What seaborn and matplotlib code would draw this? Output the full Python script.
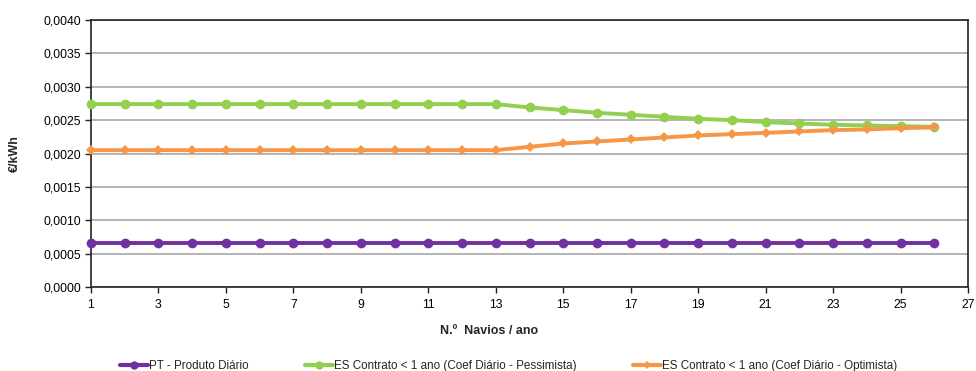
import matplotlib
matplotlib.use("Agg")
import matplotlib.pyplot as plt
import seaborn as sns
import pandas as pd
from matplotlib.ticker import FuncFormatter, MultipleLocator, FixedLocator
from matplotlib.lines import Line2D

navios = list(range(1, 27))
pt_diario = [0.00066] * 26
es_pessimista = [0.00274] * 13 + [0.00269, 0.00265, 0.00261, 0.00258, 0.00255, 0.00252,
                                  0.00250, 0.00247, 0.00245, 0.00243, 0.00242, 0.00241, 0.00240]
es_optimista = [0.00205] * 13 + [0.00210, 0.00215, 0.00218, 0.00221, 0.00224, 0.00227,
                                 0.00229, 0.00231, 0.00233, 0.00235, 0.00236, 0.00238, 0.00239]
x_ticks = list(range(1, 28, 2))
labels = ["PT - Produto Diário",
          "ES Contrato < 1 ano (Coef Diário - Pessimista)",
          "ES Contrato < 1 ano (Coef Diário - Optimista)"]
colors = ["#7030A0", "#92D050", "#F79646"]
markers = ["o", "o", "D"]
msizes = [7, 7, 5]

df = pd.concat([
    pd.DataFrame({"x": navios, "y": vals, "serie": lab})
    for vals, lab in zip([pt_diario, es_pessimista, es_optimista], labels)
])

sns.set_theme(style="white")
plt.rcParams["font.family"] = ["Liberation Sans", "DejaVu Sans"]

W, H = 976, 371
fig = plt.figure(figsize=(W / 100, H / 100), dpi=100)
left, right, top, bottom = 91, 968, 20, 287
ax = fig.add_axes([left / W, 1 - bottom / H, (right - left) / W, (bottom - top) / H])

for lab, c, m, ms in zip(labels, colors, markers, msizes):
    sub = df[df["serie"] == lab]
    sns.lineplot(data=sub, x="x", y="y", ax=ax, color=c, marker=m, markersize=ms,
                 markeredgewidth=0, linewidth=2.8, legend=False, zorder=3, clip_on=False)

ax.set_xlim(1, 27)
ax.set_ylim(0, 0.004)
ax.xaxis.set_major_locator(FixedLocator(x_ticks))
ax.yaxis.set_major_locator(MultipleLocator(0.0005))
ax.yaxis.set_major_formatter(FuncFormatter(lambda v, p: f"{v:.4f}".replace(".", ",")))
ax.grid(axis="y", color="#A0A0A0", linewidth=1.1)
ax.set_axisbelow(True)
for s in ax.spines.values():
    s.set_color("#222222")
    s.set_linewidth(1.2)
ax.tick_params(axis="both", labelsize=8.8, length=4, width=1, direction="out",
               colors="#222222", labelcolor="black", pad=3, left=True, bottom=True)
ax.tick_params(axis="x", pad=5)
ax.set_xlabel("")
ax.set_ylabel("")
fig.text(489 / W, 1 - 331 / H, "N.º  Navios / ano", fontsize=9, fontweight="bold",
         ha="center", va="center")
fig.text(15 / W, 1 - 154 / H, "€/kWh", fontsize=9, fontweight="bold",
         ha="center", va="center", rotation=90)

leg_x = [120, 305, 633]
for lab, c, m, lx in zip(labels, colors, markers, leg_x):
    h = Line2D([], [], color=c, marker=m, markersize=6 if m == "o" else 4.5,
               markeredgewidth=0, linewidth=3)
    fig.legend([h], [lab], loc="center left", bbox_to_anchor=(lx / W, 1 - 366 / H),
               frameon=False, fontsize=8.4, handlelength=2.4, handletextpad=0.05,
               borderpad=0, borderaxespad=0)

fig.savefig("out.png", dpi=100)
